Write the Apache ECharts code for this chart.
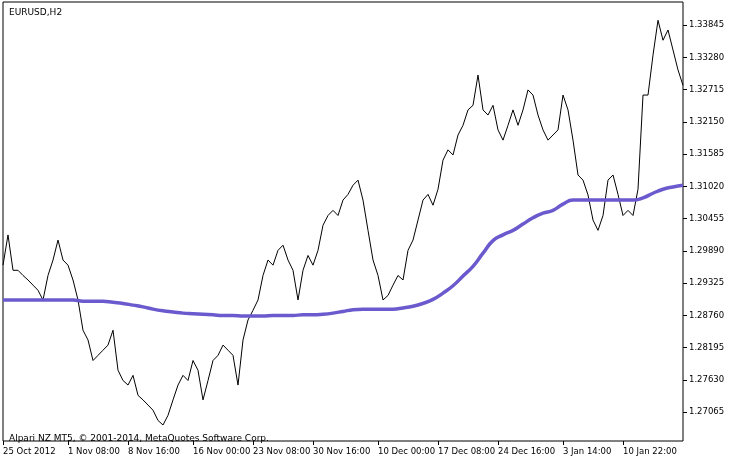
<!DOCTYPE html>
<html>
<head>
<meta charset="utf-8">
<script src="https://cdn.jsdelivr.net/npm/echarts@6/dist/echarts.min.js"></script>
<style>html,body{margin:0;padding:0;background:#fff}#chart-container{width:734px;height:463px}</style>
</head>
<body>
<div id="chart-container"></div>
<script>
// EURUSD H2 close prices, one point every ~5px of the original chart
var prices = [1.2964,1.3017,1.2955,1.2955,1.2946,1.2938,1.2929,1.2920,1.2903,1.2946,
  1.2973,1.3008,1.2973,1.2964,1.2938,1.2903,1.2850,1.2833,1.2797,1.2806,
  1.2815,1.2824,1.2850,1.2780,1.2762,1.2754,1.2771,1.2736,1.2728,1.2719,
  1.2710,1.2692,1.2684,1.2701,1.2728,1.2754,1.2771,1.2762,1.2797,1.2780,
  1.2728,1.2762,1.2797,1.2806,1.2824,1.2815,1.2806,1.2754,1.2833,1.2868,
  1.2885,1.2903,1.2946,1.2973,1.2964,1.2990,1.2999,1.2973,1.2955,1.2903,
  1.2955,1.2981,1.2964,1.2990,1.3034,1.3051,1.3060,1.3051,1.3078,1.3088,
  1.3104,1.3113,1.3078,1.3025,1.2973,1.2946,1.2903,1.2911,1.2929,1.2946,
  1.2938,1.2990,1.3008,1.3043,1.3078,1.3088,1.3069,1.3097,1.3148,1.3166,
  1.3157,1.3192,1.3209,1.3236,1.3244,1.3297,1.3236,1.3227,1.3244,1.3201,
  1.3183,1.3209,1.3236,1.3209,1.3236,1.3271,1.3262,1.3227,1.3201,1.3183,
  1.3192,1.3201,1.3262,1.3236,1.3183,1.3122,1.3113,1.3087,1.3043,1.3025,
  1.3051,1.3113,1.3122,1.3088,1.3051,1.3060,1.3051,1.3097,1.3262,1.3262,
  1.3332,1.3393,1.3358,1.3376,1.3341,1.3306,1.3279];

// moving average, sampled every second point
var maValues = [1.2903,1.2903,1.2903,1.2903,1.2903,1.2903,1.2903,1.2903,1.2901,1.2901,
  1.2901,1.2899,1.2897,1.2894,1.2891,1.2887,1.2884,1.2882,1.2880,1.2879,
  1.2878,1.2877,1.2876,1.2876,1.2875,1.2875,1.2875,1.2876,1.2876,1.2876,
  1.2877,1.2877,1.2878,1.2880,1.2883,1.2886,1.2887,1.2887,1.2887,1.2887,
  1.2889,1.2892,1.2897,1.2904,1.2915,1.2928,1.2945,1.2962,1.2985,1.3007,
  1.3017,1.3025,1.3036,1.3047,1.3055,1.3060,1.3071,1.3078,1.3078,1.3078,
  1.3078,1.3078,1.3078,1.3078,1.3082,1.3090,1.3097,1.3101,1.3104];

var timeLabels = ['25 Oct 2012','1 Nov 08:00','8 Nov 16:00','16 Nov 00:00','23 Nov 08:00',
  '30 Nov 16:00','10 Dec 00:00','17 Dec 08:00','24 Dec 16:00','3 Jan 14:00','10 Jan 22:00'];
var labelIndex = [0,13,25,38,50,62,75,87,99,112,124];

var priceTicks = [1.27065,1.27630,1.28195,1.28760,1.29325,1.29890,1.30455,1.31020,
  1.31585,1.32150,1.32715,1.33280,1.33845];

var categories = prices.map(function (v, i) {
  var k = labelIndex.indexOf(i);
  return k >= 0 ? timeLabels[k] : '';
});
var maData = prices.map(function (v, i) {
  return i % 2 === 0 ? maValues[i / 2] : null;
});

var myChart = echarts.init(document.getElementById('chart-container'), null, { renderer: 'canvas' });
var font = 'DejaVu Sans';
var option = {
  animation: false,
  textStyle: { fontFamily: font },
  title: [
    { text: 'EURUSD,H2', left: 4, top: 3, textStyle: { fontSize: 9, fontWeight: 'normal', color: '#000', fontFamily: font } },
    { text: 'Alpari NZ MT5, © 2001-2014, MetaQuotes Software Corp.', left: 4, top: 429,
      textStyle: { fontSize: 9, fontWeight: 'normal', color: '#000', fontFamily: font } }
  ],
  grid: { left: 2, right: 51, top: 2, bottom: 22, show: true, borderColor: '#000', borderWidth: 1 },
  xAxis: {
    type: 'category',
    data: categories,
    boundaryGap: false,
    axisLine: { show: false },
    axisTick: { show: true, interval: function (i) { return labelIndex.indexOf(i) >= 0; }, length: 4, lineStyle: { color: '#000' } },
    axisLabel: { interval: function (i) { return labelIndex.indexOf(i) >= 0; }, align: 'left', color: '#000', fontSize: 8.5, margin: 6 },
    splitLine: { show: false }
  },
  yAxis: {
    type: 'value',
    position: 'right',
    min: 1.2656,
    max: 1.3425,
    axisLine: { show: false },
    axisTick: { show: true, customValues: priceTicks, length: 4, lineStyle: { color: '#000' } },
    axisLabel: { customValues: priceTicks, color: '#000', fontSize: 8.5, margin: 6,
      formatter: function (v) { return v.toFixed(5); } },
    splitLine: { show: false }
  },
  series: [
    { type: 'line', data: prices, symbol: 'none', lineStyle: { color: '#000', width: 1 } },
    { type: 'line', data: maData, connectNulls: true, symbol: 'none', smooth: true,
      lineStyle: { color: '#6a5acd', width: 3.5 } }
  ]
};
myChart.setOption(option);
</script>
</body>
</html>
